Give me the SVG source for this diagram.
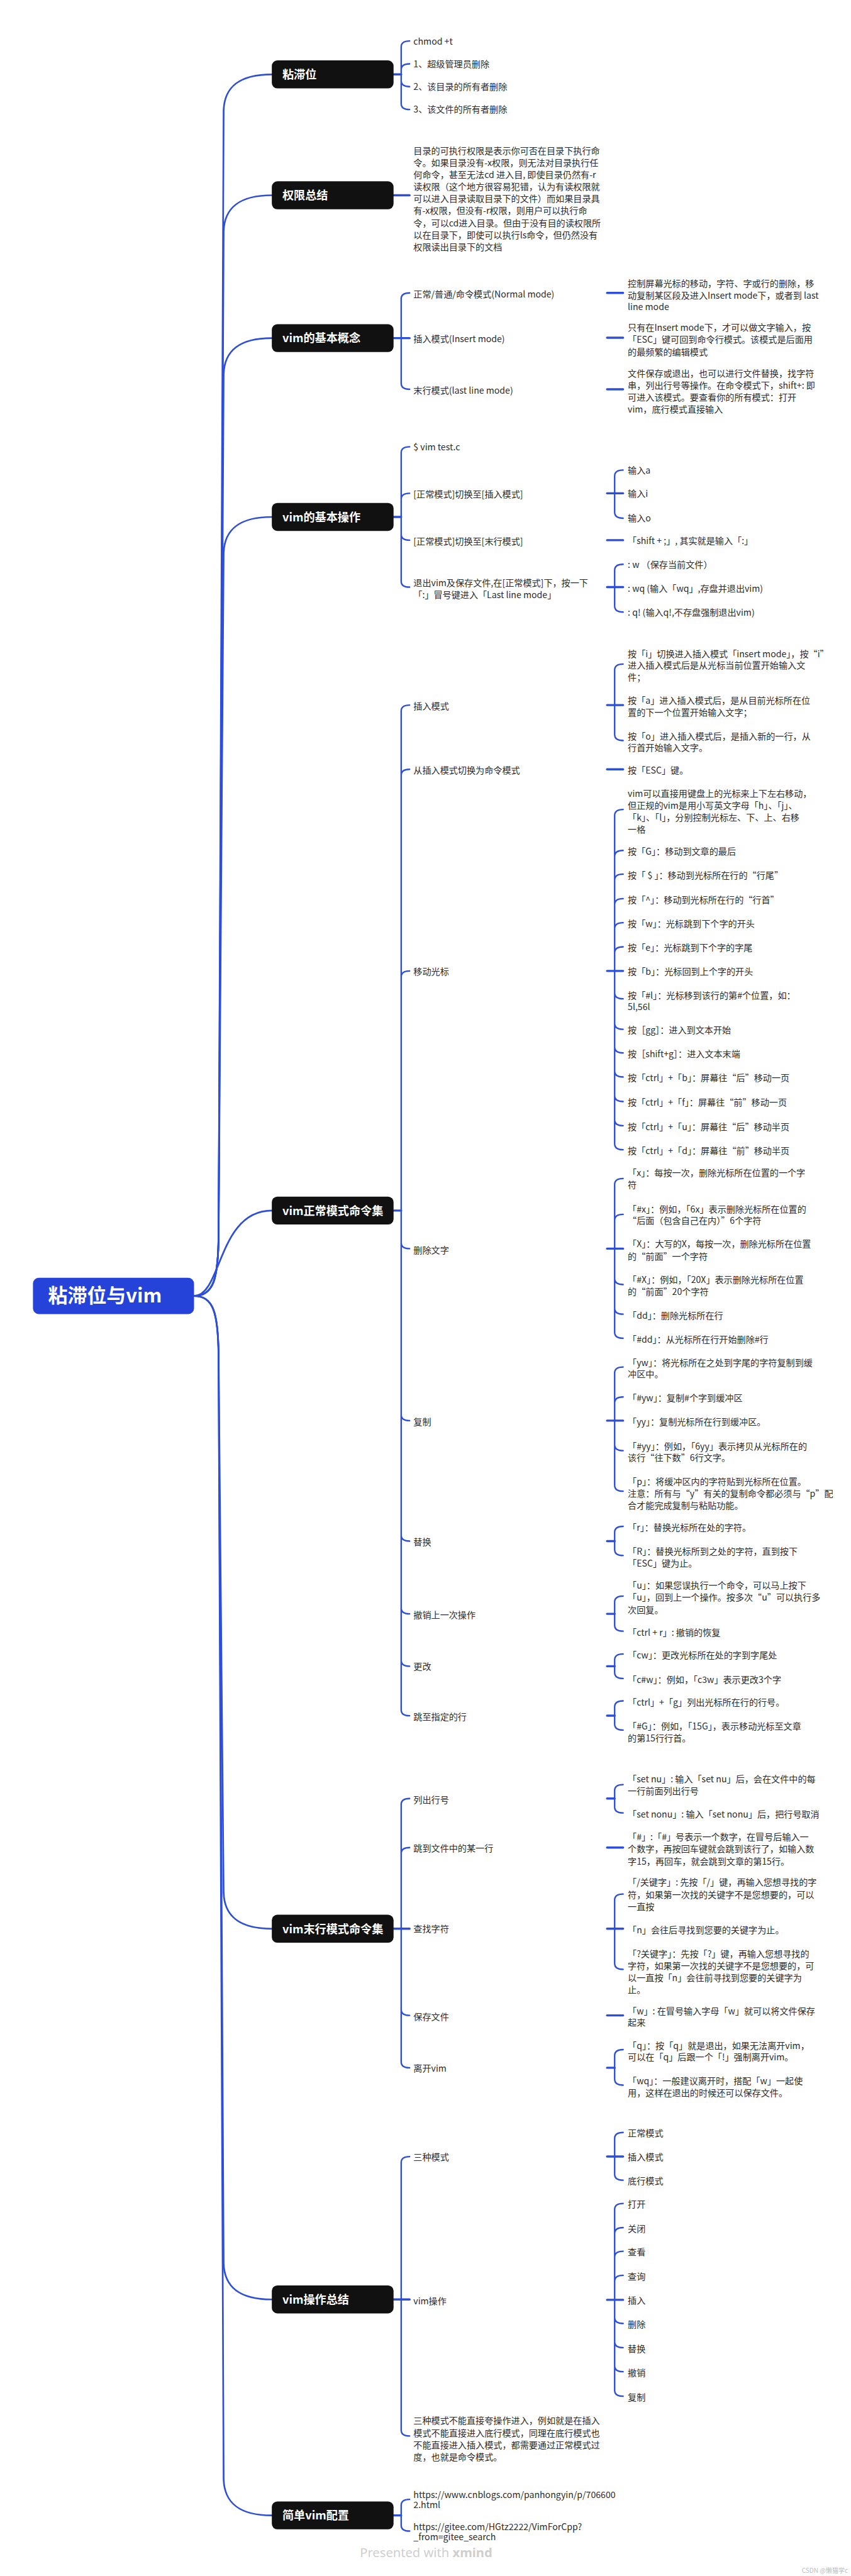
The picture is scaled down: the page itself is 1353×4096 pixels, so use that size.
<svg xmlns="http://www.w3.org/2000/svg" width="1353" height="4096" viewBox="0 0 1353 4096">
<style>
.t{font-family:"Noto Sans CJK SC","Noto Sans",sans-serif;font-size:21px;fill:#2b2b2b}
.n rect{fill:#111111}
.n text{font-family:"Noto Sans CJK SC","Noto Sans",sans-serif;font-size:27px;font-weight:700;fill:#ffffff}
.c path{fill:none;stroke:#2d4ed8;stroke-width:3.5;stroke-linecap:round}
.c path.s{stroke-width:5}
.c path.r{stroke-width:4}
</style>
<rect width="1353" height="4096" fill="#ffffff"/>
<g transform="scale(0.6721)">
<g class="c" id="connectors">
<!-- root -->
<path class="r" d="M459 3066C505 3066 516 3026 517 2926L529 261C531 206 565 176 643 176"/>
<path class="r" d="M459 3066C505 3066 516 3026 517 2926L529 547C531 492 565 462 643 462"/>
<path class="r" d="M459 3066C505 3066 516 3026 517 2926L529 885C531 830 565 800 643 800"/>
<path class="r" d="M459 3066C505 3066 516 3026 517 2926L529 1308C531 1253 565 1223 643 1223"/>
<path class="r" d="M459 3066C525 3066 515 2864 643 2864"/>
<path class="r" d="M459 3066C505 3066 516 3106 517 3206L529 4478C531 4533 565 4563 643 4563"/>
<path class="r" d="M459 3066C505 3066 516 3106 517 3206L529 5355C531 5410 565 5440 643 5440"/>
<path class="r" d="M459 3066C505 3066 516 3106 517 3206L529 5866C531 5921 565 5951 643 5951"/>
<!-- P1 -->
<path class="s" d="M931 176H949"/>
<path d="M949 111V245M949 111Q949 97 969 97M949 165Q949 151 969 151M949 191Q949 205 969 205M949 245Q949 259 969 259"/>
<!-- P2 -->
<path class="s" d="M931 462H969"/>
<!-- P3 -->
<path class="s" d="M931 800H969"/>
<path d="M949 707V907M949 707Q949 693 969 693M949 907Q949 921 969 921"/>
<path class="s" d="M1436 693H1474M1436 799H1474M1436 921H1474"/>
<!-- P4 -->
<path class="s" d="M931 1223H949"/>
<path d="M949 1071V1375M949 1071Q949 1057 969 1057M949 1181Q949 1167 969 1167M949 1264Q949 1278 969 1278M949 1375Q949 1389 969 1389"/>
<path class="s" d="M1436 1167H1474"/>
<path d="M1454 1126V1212M1454 1126Q1454 1112 1474 1112M1454 1212Q1454 1226 1474 1226"/>
<path class="s" d="M1436 1278H1474"/>
<path class="s" d="M1436 1389H1474"/>
<path d="M1454 1349V1434M1454 1349Q1454 1335 1474 1335M1454 1434Q1454 1448 1474 1448"/>
<!-- P5 -->
<path class="s" d="M931 2864H949"/>
<path d="M949 1682V4045M949 1682Q949 1668 969 1668M949 1834Q949 1820 969 1820M949 2311Q949 2297 969 2297M949 2940Q949 2954 969 2954M949 3347Q949 3361 969 3361M949 3632Q949 3646 969 3646M949 3804Q949 3818 969 3818M949 3928Q949 3942 969 3942M949 4045Q949 4059 969 4059"/>
<path class="s" d="M1436 1668H1474"/>
<path d="M1454 1585V1738M1454 1585Q1454 1571 1474 1571M1454 1738Q1454 1752 1474 1752"/>
<path class="s" d="M1436 1820H1474"/>
<path class="s" d="M1436 2297H1474"/>
<path d="M1454 1929V2706M1454 1929Q1454 1915 1474 1915M1454 2026Q1454 2012 1474 2012M1454 2082Q1454 2068 1474 2068M1454 2140Q1454 2126 1474 2126M1454 2197Q1454 2183 1474 2183M1454 2254Q1454 2240 1474 2240M1454 2349Q1454 2363 1474 2363M1454 2421Q1454 2435 1474 2435M1454 2477Q1454 2491 1474 2491M1454 2534Q1454 2548 1474 2548M1454 2592Q1454 2606 1474 2606M1454 2649Q1454 2663 1474 2663M1454 2706Q1454 2720 1474 2720"/>
<path class="s" d="M1436 2954H1474"/>
<path d="M1454 2802V3152M1454 2802Q1454 2788 1474 2788M1454 2887Q1454 2873 1474 2873M1454 3025Q1454 3039 1474 3039M1454 3095Q1454 3109 1474 3109M1454 3152Q1454 3166 1474 3166"/>
<path class="s" d="M1436 3361H1474"/>
<path d="M1454 3248V3514M1454 3248Q1454 3234 1474 3234M1454 3319Q1454 3305 1474 3305M1454 3418Q1454 3432 1474 3432M1454 3514Q1454 3528 1474 3528"/>
<path class="s" d="M1436 3646H1454"/>
<path d="M1454 3625V3666M1454 3625Q1454 3611 1474 3611M1454 3666Q1454 3680 1474 3680"/>
<path class="s" d="M1436 3818H1454"/>
<path d="M1454 3790V3845M1454 3790Q1454 3776 1474 3776M1454 3845Q1454 3859 1474 3859"/>
<path class="s" d="M1436 3942H1454"/>
<path d="M1454 3927V3957M1454 3927Q1454 3913 1474 3913M1454 3957Q1454 3971 1474 3971"/>
<path class="s" d="M1436 4059H1454"/>
<path d="M1454 4038V4079M1454 4038Q1454 4024 1474 4024M1454 4079Q1454 4093 1474 4093"/>
<!-- P6 -->
<path class="s" d="M931 4563H969"/>
<path d="M949 4269V4878M949 4269Q949 4255 969 4255M949 4385Q949 4371 969 4371M949 4754Q949 4768 969 4768M949 4878Q949 4892 969 4892"/>
<path class="s" d="M1436 4255H1454"/>
<path d="M1454 4236V4275M1454 4236Q1454 4222 1474 4222M1454 4275Q1454 4289 1474 4289"/>
<path class="s" d="M1436 4371H1474"/>
<path class="s" d="M1436 4563H1474"/>
<path d="M1454 4495V4645M1454 4495Q1454 4481 1474 4481M1454 4645Q1454 4659 1474 4659"/>
<path class="s" d="M1436 4768H1474"/>
<path class="s" d="M1436 4892H1454"/>
<path d="M1454 4863V4919M1454 4863Q1454 4849 1474 4849M1454 4919Q1454 4933 1474 4933"/>
<!-- P7 -->
<path class="s" d="M931 5440H969"/>
<path d="M949 5116V5749M949 5116Q949 5102 969 5102M949 5749Q949 5763 969 5763"/>
<path class="s" d="M1436 5102H1474"/>
<path d="M1454 5059V5144M1454 5059Q1454 5045 1474 5045M1454 5144Q1454 5158 1474 5158"/>
<path class="s" d="M1436 5441H1474"/>
<path d="M1454 5227V5655M1454 5227Q1454 5213 1474 5213M1454 5284Q1454 5270 1474 5270M1454 5340Q1454 5326 1474 5326M1454 5397Q1454 5383 1474 5383M1454 5483Q1454 5497 1474 5497M1454 5540Q1454 5554 1474 5554M1454 5597Q1454 5611 1474 5611M1454 5655Q1454 5669 1474 5669"/>
<!-- P8 -->
<path class="s" d="M931 5951H949"/>
<path d="M949 5927V5974M949 5927Q949 5913 969 5913M949 5974Q949 5988 969 5988"/>
</g>

<g id="root" class="n"><rect x="78" y="3023" width="381" height="86" rx="14" style="fill:#2543d8"/><text x="114" y="3082" style="font-size:46px">粘滞位与vim</text></g>

<g id="n1" class="n"><rect x="643" y="143" width="288" height="66" rx="13"/><text x="668" y="186">粘滞位</text></g>
<g id="n2" class="n"><rect x="643" y="429" width="288" height="66" rx="13"/><text x="668" y="472">权限总结</text></g>
<g id="n3" class="n"><rect x="643" y="767" width="288" height="66" rx="13"/><text x="668" y="810">vim的基本概念</text></g>
<g id="n4" class="n"><rect x="643" y="1190" width="288" height="66" rx="13"/><text x="668" y="1233">vim的基本操作</text></g>
<g id="n5" class="n"><rect x="643" y="2831" width="288" height="66" rx="13"/><text x="668" y="2874">vim正常模式命令集</text></g>
<g id="n6" class="n"><rect x="643" y="4530" width="288" height="66" rx="13"/><text x="668" y="4573">vim末行模式命令集</text></g>
<g id="n7" class="n"><rect x="643" y="5407" width="288" height="66" rx="13"/><text x="668" y="5450">vim操作总结</text></g>
<g id="n8" class="n"><rect x="643" y="5918" width="288" height="66" rx="13"/><text x="668" y="5961">简单vim配置</text></g>

<g id="p1" class="t">
<text x="978" y="105">chmod +t</text>
<text x="978" y="159">1、超级管理员删除</text>
<text x="978" y="213">2、该目录的所有者删除</text>
<text x="978" y="267">3、该文件的所有者删除</text>
</g>
<g id="p2"><text class="t"><tspan x="978" y="364">目录的可执行权限是表示你可否在目录下执行命</tspan><tspan x="978" y="392.5">令。如果目录没有-x权限，则无法对目录执行任</tspan><tspan x="978" y="421">何命令，甚至无法cd 进入目, 即使目录仍然有-r</tspan><tspan x="978" y="449.5">读权限（这个地方很容易犯错，认为有读权限就</tspan><tspan x="978" y="478">可以进入目录读取目录下的文件）而如果目录具</tspan><tspan x="978" y="506.5">有-x权限，但没有-r权限，则用户可以执行命</tspan><tspan x="978" y="535">令，可以cd进入目录。但由于没有目的读权限所</tspan><tspan x="978" y="563.5">以在目录下，即使可以执行ls命令，但仍然没有</tspan><tspan x="978" y="592">权限读出目录下的文档</tspan></text></g>

<g id="p3" class="t">
<text x="978" y="704">正常/普通/命令模式(Normal mode)</text>
<text x="978" y="810">插入模式(Insert mode)</text>
<text x="978" y="931">末行模式(last line mode)</text>
<text><tspan x="1485" y="678">控制屏幕光标的移动，字符、字或行的删除，移</tspan><tspan x="1485" y="706">动复制某区段及进入Insert mode下，或者到 last</tspan><tspan x="1485" y="733">line mode</tspan></text>
<text><tspan x="1485" y="783">只有在Insert mode下，才可以做文字输入，按</tspan><tspan x="1485" y="811.5">「ESC」键可回到命令行模式。该模式是后面用</tspan><tspan x="1485" y="840">的最频繁的编辑模式</tspan></text>
<text><tspan x="1485" y="891">文件保存或退出，也可以进行文件替换，找字符</tspan><tspan x="1485" y="919.5">串，列出行号等操作。在命令模式下，shift+: 即</tspan><tspan x="1485" y="948">可进入该模式。要查看你的所有模式：打开</tspan><tspan x="1485" y="976.5">vim，底行模式直接输入</tspan></text>
</g>

<g id="p4" class="t">
<text x="978" y="1066">$ vim test.c</text>
<text x="978" y="1177">[正常模式]切换至[插入模式]</text>
<text x="978" y="1288">[正常模式]切换至[末行模式]</text>
<text><tspan x="978" y="1386">退出vim及保存文件,在[正常模式]下，按一下</tspan><tspan x="978" y="1414.5">「:」冒号键进入「Last line mode」</tspan></text>
<text x="1485" y="1120">输入a</text>
<text x="1485" y="1176">输入i</text>
<text x="1485" y="1234">输入o</text>
<text x="1485" y="1287">「shift + ;」, 其实就是输入「:」</text>
<text x="1485" y="1343">: w （保存当前文件）</text>
<text x="1485" y="1400">: wq (输入「wq」,存盘并退出vim)</text>
<text x="1485" y="1456">: q! (输入q!,不存盘强制退出vim)</text>
</g>

<g id="p5" class="t">
<text x="978" y="1678">插入模式</text>
<text x="978" y="1830">从插入模式切换为命令模式</text>
<text x="978" y="2306">移动光标</text>
<text x="978" y="2965">删除文字</text>
<text x="978" y="3371">复制</text>
<text x="978" y="3656">替换</text>
<text x="978" y="3828">撤销上一次操作</text>
<text x="978" y="3951">更改</text>
<text x="978" y="4070">跳至指定的行</text>

<text><tspan x="1485" y="1555">按「i」切换进入插入模式「insert mode」，按“i”</tspan><tspan x="1485" y="1582">进入插入模式后是从光标当前位置开始输入文</tspan><tspan x="1485" y="1610">件；</tspan></text>
<text><tspan x="1485" y="1665">按「a」进入插入模式后，是从目前光标所在位</tspan><tspan x="1485" y="1693">置的下一个位置开始输入文字；</tspan></text>
<text><tspan x="1485" y="1750">按「o」进入插入模式后，是插入新的一行，从</tspan><tspan x="1485" y="1777">行首开始输入文字。</tspan></text>
<text x="1485" y="1830">按「ESC」键。</text>

<text><tspan x="1485" y="1885">vim可以直接用键盘上的光标来上下左右移动，</tspan><tspan x="1485" y="1913">但正规的vim是用小写英文字母「h」、「j」、</tspan><tspan x="1485" y="1941">「k」、「l」，分别控制光标左、下、上、右移</tspan><tspan x="1485" y="1970">一格</tspan></text>
<text x="1485" y="2022">按「G」：移动到文章的最后</text>
<text x="1485" y="2078">按「 $ 」：移动到光标所在行的“行尾”</text>
<text x="1485" y="2136">按「^」：移动到光标所在行的“行首”</text>
<text x="1485" y="2193">按「w」：光标跳到下个字的开头</text>
<text x="1485" y="2250">按「e」：光标跳到下个字的字尾</text>
<text x="1485" y="2306">按「b」：光标回到上个字的开头</text>
<text><tspan x="1485" y="2363">按「#l」：光标移到该行的第#个位置，如：</tspan><tspan x="1485" y="2389">5l,56l</tspan></text>
<text x="1485" y="2445">按［gg］：进入到文本开始</text>
<text x="1485" y="2501">按［shift+g］：进入文本末端</text>
<text x="1485" y="2558">按「ctrl」+「b」：屏幕往“后”移动一页</text>
<text x="1485" y="2616">按「ctrl」+「f」：屏幕往“前”移动一页</text>
<text x="1485" y="2673">按「ctrl」+「u」：屏幕往“后”移动半页</text>
<text x="1485" y="2730">按「ctrl」+「d」：屏幕往“前”移动半页</text>

<text><tspan x="1485" y="2783">「x」：每按一次，删除光标所在位置的一个字</tspan><tspan x="1485" y="2811">符</tspan></text>
<text><tspan x="1485" y="2868">「#x」：例如，「6x」表示删除光标所在位置的</tspan><tspan x="1485" y="2896">“后面（包含自己在内）”6个字符</tspan></text>
<text><tspan x="1485" y="2951">「X」：大写的X，每按一次，删除光标所在位置</tspan><tspan x="1485" y="2980">的“前面”一个字符</tspan></text>
<text><tspan x="1485" y="3036">「#X」：例如，「20X」表示删除光标所在位置</tspan><tspan x="1485" y="3064">的“前面”20个字符</tspan></text>
<text x="1485" y="3120">「dd」：删除光标所在行</text>
<text x="1485" y="3176">「#dd」：从光标所在行开始删除#行</text>

<text><tspan x="1485" y="3231">「yw」：将光标所在之处到字尾的字符复制到缓</tspan><tspan x="1485" y="3259">冲区中。</tspan></text>
<text x="1485" y="3315">「#yw」：复制#个字到缓冲区</text>
<text x="1485" y="3371">「yy」：复制光标所在行到缓冲区。</text>
<text><tspan x="1485" y="3430">「#yy」：例如，「6yy」表示拷贝从光标所在的</tspan><tspan x="1485" y="3457">该行“往下数”6行文字。</tspan></text>
<text><tspan x="1485" y="3513">「p」：将缓冲区内的字符贴到光标所在位置。</tspan><tspan x="1485" y="3541">注意：所有与“y”有关的复制命令都必须与“p”配</tspan><tspan x="1485" y="3570">合才能完成复制与粘贴功能。</tspan></text>

<text x="1485" y="3621">「r」：替换光标所在处的字符。</text>
<text><tspan x="1485" y="3678">「R」：替换光标所到之处的字符，直到按下</tspan><tspan x="1485" y="3706">「ESC」键为止。</tspan></text>
<text><tspan x="1485" y="3759">「u」：如果您误执行一个命令，可以马上按下</tspan><tspan x="1485" y="3787">「u」，回到上一个操作。按多次“u”可以执行多</tspan><tspan x="1485" y="3816">次回复。</tspan></text>
<text x="1485" y="3870">「ctrl + r」: 撤销的恢复</text>
<text x="1485" y="3924">「cw」：更改光标所在处的字到字尾处</text>
<text x="1485" y="3981">「c#w」：例如，「c3w」表示更改3个字</text>
<text x="1485" y="4035">「ctrl」+「g」列出光标所在行的行号。</text>
<text><tspan x="1485" y="4092">「#G」：例如，「15G」，表示移动光标至文章</tspan><tspan x="1485" y="4120">的第15行行首。</tspan></text>
</g>

<g id="p6" class="t">
<text x="978" y="4265">列出行号</text>
<text x="978" y="4381">跳到文件中的某一行</text>
<text x="978" y="4571">查找字符</text>
<text x="978" y="4779">保存文件</text>
<text x="978" y="4901">离开vim</text>
<text><tspan x="1485" y="4216">「set nu」: 输入「set nu」后，会在文件中的每</tspan><tspan x="1485" y="4245">一行前面列出行号</tspan></text>
<text x="1485" y="4300">「set nonu」: 输入「set nonu」后，把行号取消</text>
<text><tspan x="1485" y="4354">「#」:「#」号表示一个数字，在冒号后输入一</tspan><tspan x="1485" y="4382">个数字，再按回车键就会跳到该行了，如输入数</tspan><tspan x="1485" y="4411">字15，再回车，就会跳到文章的第15行。</tspan></text>
<text><tspan x="1485" y="4461">「/关键字」: 先按「/」键，再输入您想寻找的字</tspan><tspan x="1485" y="4490">符，如果第一次找的关键字不是您想要的，可以</tspan><tspan x="1485" y="4519">一直按</tspan></text>
<text x="1485" y="4573">「n」会往后寻找到您要的关键字为止。</text>
<text><tspan x="1485" y="4630">「?关键字」：先按「?」键，再输入您想寻找的</tspan><tspan x="1485" y="4659">字符，如果第一次找的关键字不是您想要的，可</tspan><tspan x="1485" y="4687">以一直按「n」会往前寻找到您要的关键字为</tspan><tspan x="1485" y="4715">止。</tspan></text>
<text><tspan x="1485" y="4765">「w」: 在冒号输入字母「w」就可以将文件保存</tspan><tspan x="1485" y="4793">起来</tspan></text>
<text><tspan x="1485" y="4847">「q」：按「q」就是退出，如果无法离开vim，</tspan><tspan x="1485" y="4875">可以在「q」后跟一个「!」强制离开vim。</tspan></text>
<text><tspan x="1485" y="4931">「wq」：一般建议离开时，搭配「w」一起使</tspan><tspan x="1485" y="4959">用，这样在退出的时候还可以保存文件。</tspan></text>
</g>

<g id="p7" class="t">
<text x="978" y="5111">三种模式</text>
<text x="978" y="5451">vim操作</text>
<text><tspan x="978" y="5735">三种模式不能直接夸操作进入，例如就是在插入</tspan><tspan x="978" y="5764">模式不能直接进入底行模式，同理在底行模式也</tspan><tspan x="978" y="5793">不能直接进入插入模式，都需要通过正常模式过</tspan><tspan x="978" y="5821">度，也就是命令模式。</tspan></text>
<text x="1485" y="5055">正常模式</text>
<text x="1485" y="5111">插入模式</text>
<text x="1485" y="5168">底行模式</text>
<text x="1485" y="5223">打开</text>
<text x="1485" y="5280">关闭</text>
<text x="1485" y="5336">查看</text>
<text x="1485" y="5393">查询</text>
<text x="1485" y="5450">插入</text>
<text x="1485" y="5507">删除</text>
<text x="1485" y="5564">替换</text>
<text x="1485" y="5621">撤销</text>
<text x="1485" y="5679">复制</text>
</g>

<g id="p8" class="t">
<text><tspan x="978" y="5910">https://www.cnblogs.com/panhongyin/p/706600</tspan><tspan x="978" y="5934">2.html</tspan></text>
<text><tspan x="978" y="5985">https://gitee.com/HGtz2222/VimForCpp?</tspan><tspan x="978" y="6010">_from=gitee_search</tspan></text>
</g>

<text x="1008" y="6049" text-anchor="middle" style="font-family:'Noto Sans','Liberation Sans',sans-serif;font-size:30px;fill:#cfcfcf">Presented with <tspan font-weight="700">xmind</tspan></text>
<text x="2006" y="6087" text-anchor="end" style="font-family:'Noto Sans CJK SC',sans-serif;font-size:15px;fill:#bdbdbd">CSDN @懒猫学c</text>
</g>
</svg>
